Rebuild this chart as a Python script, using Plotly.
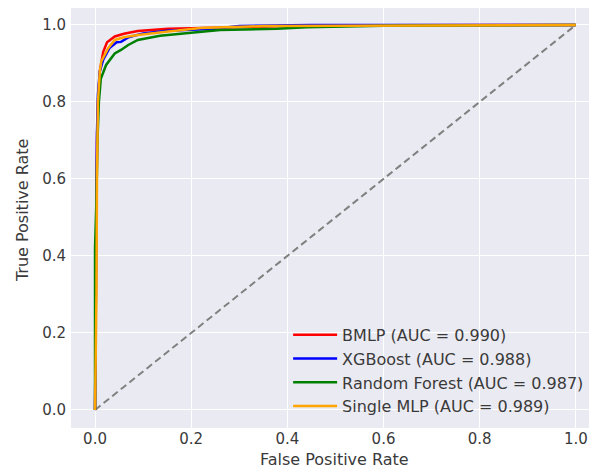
import plotly.graph_objects as go

# ROC curve data
bmlp_fpr = [0, 0.002, 0.004, 0.006, 0.010, 0.017, 0.025, 0.041, 0.060, 0.089, 0.152, 0.25, 0.40, 0.60, 1.0]
bmlp_tpr = [0, 0.45, 0.70, 0.80, 0.88, 0.93, 0.955, 0.970, 0.977, 0.984, 0.990, 0.993, 0.997, 0.999, 1.0]

xgb_fpr = [0, 0.002, 0.004, 0.006, 0.010, 0.017, 0.030, 0.045, 0.054, 0.070, 0.100, 0.150, 0.25, 0.30, 0.45, 1.0]
xgb_tpr = [0, 0.40, 0.72, 0.82, 0.88, 0.91, 0.94, 0.955, 0.956, 0.968, 0.978, 0.985, 0.990, 0.997, 1.0, 1.0]

rf_fpr = [0, 0.0, 0.003, 0.005, 0.008, 0.012, 0.023, 0.041, 0.054, 0.069, 0.089, 0.135, 0.20, 0.26, 0.378, 0.44, 0.60, 1.0]
rf_tpr = [0, 0.42, 0.55, 0.70, 0.80, 0.86, 0.896, 0.926, 0.935, 0.948, 0.961, 0.972, 0.980, 0.987, 0.990, 0.994, 0.998, 1.0]

mlp_fpr = [0, 0.003, 0.004, 0.006, 0.010, 0.013, 0.027, 0.041, 0.060, 0.089, 0.152, 0.22, 0.35, 1.0]
mlp_tpr = [0, 0.30, 0.60, 0.80, 0.88, 0.905, 0.939, 0.961, 0.968, 0.974, 0.983, 0.992, 0.997, 1.0]

names = ["BMLP (AUC = 0.990)", "XGBoost (AUC = 0.988)",
         "Random Forest (AUC = 0.987)", "Single MLP (AUC = 0.989)"]
colors = ["#ff0000", "#0000ff", "#008000", "#ffa500"]
fprs = [bmlp_fpr, xgb_fpr, rf_fpr, mlp_fpr]
tprs = [bmlp_tpr, xgb_tpr, rf_tpr, mlp_tpr]

diag = [0, 1]
tick_vals = [0.0, 0.2, 0.4, 0.6, 0.8, 1.0]
tick_text = ["0.0", "0.2", "0.4", "0.6", "0.8", "1.0"]
x_title = "False Positive Rate"
y_title = "True Positive Rate"

FONT = "DejaVu Sans"
TXT = "#3a3a3a"

fig = go.Figure()
fig.add_trace(go.Scatter(x=diag, y=diag, mode="lines", showlegend=False,
                         line=dict(color="#808080", width=2, dash="7px,4px")))
for f, t, n, c in zip(fprs, tprs, names, colors):
    fig.add_trace(go.Scatter(x=f, y=t, mode="lines", name=n,
                             line=dict(color=c, width=2.5)))

axis_common = dict(showgrid=True, gridcolor="white", gridwidth=1, zeroline=False,
                   showline=False, ticks="", tickvals=tick_vals, ticktext=tick_text,
                   automargin=False,
                   tickfont=dict(family=FONT, size=15, color=TXT))
# the page body adds an 8px offset, so the figure is sized to fill the window
fig.update_layout(
    width=589, height=461,
    margin=dict(l=63, r=0, t=0, b=41),
    paper_bgcolor="white", plot_bgcolor="#eaeaf2",
    font=dict(family=FONT, color=TXT),
    xaxis=dict(range=[-0.05, 1.044], **axis_common),
    yaxis=dict(range=[-0.047, 1.044], ticklabelstandoff=4, **axis_common),
    legend=dict(x=0.985, y=0.010, xanchor="right", yanchor="bottom",
                bgcolor="rgba(0,0,0,0)", font=dict(family=FONT, size=16, color=TXT),
                tracegroupgap=0, itemwidth=44),
    annotations=[
        dict(text=x_title, xref="paper", yref="paper", x=0.5, y=-0.076,
             xanchor="center", yanchor="middle", showarrow=False,
             font=dict(family=FONT, size=16, color=TXT)),
        dict(text=y_title, xref="paper", yref="paper", x=-0.093, y=0.519,
             xanchor="center", yanchor="middle", showarrow=False, textangle=-90,
             font=dict(family=FONT, size=16, color=TXT)),
    ],
)
fig.write_html("out.html")
